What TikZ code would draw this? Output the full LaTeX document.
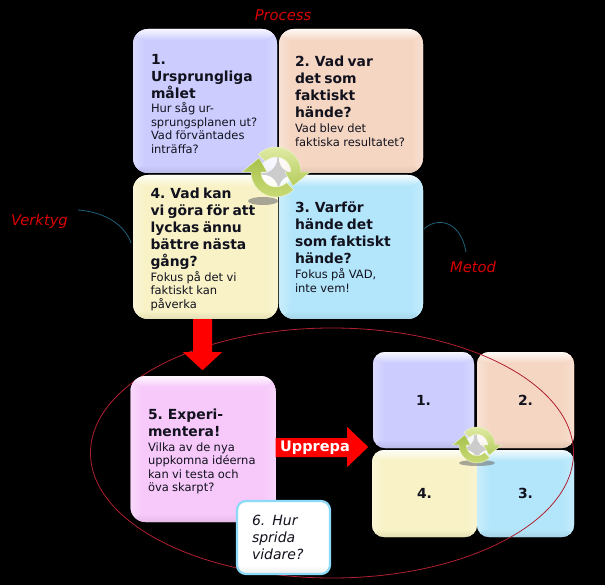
\documentclass[tikz,border=0pt]{standalone}
\usepackage{fontspec}
\setmainfont{DejaVu Sans}
\usetikzlibrary{calc,shadings,shapes.geometric}
\definecolor{cA}{HTML}{CCCCFF}
\definecolor{cB}{HTML}{F5D6C3}
\definecolor{cC}{HTML}{B4E6FB}
\definecolor{cD}{HTML}{F8F2C6}
\definecolor{cE}{HTML}{F7C9FA}
\definecolor{ink}{HTML}{12121E}
\definecolor{ringred}{HTML}{B02030}
\definecolor{teal}{HTML}{1F5F7A}
\definecolor{leafA}{HTML}{E2ECA8}
\definecolor{leafB}{HTML}{B4CC5C}
\definecolor{leafC}{HTML}{A8C24C}
\definecolor{leafD}{HTML}{CADB78}
\definecolor{leafE}{HTML}{F0F5CF}
\newcommand\hd[1]{{\fontsize{13.9}{17}\selectfont\bfseries\rule{0pt}{15.6pt}#1\par}}
\newcommand\hdb[1]{{\fontsize{13.9}{17}\selectfont\bfseries\rule{0pt}{11pt}#1\par}}
\newcommand\bd[1]{{\vspace{1pt}\fontsize{11.5}{13.6}\selectfont #1\par}}
\newcommand\recyc[3]{%
\begin{scope}[shift={(#1,#2)},x=#3pt,y=#3pt]
 \fill[white,opacity=.8] (-22,0)--(0,22)--(22,0)--(0,-22)--cycle;
 \shade[top color=leafA,bottom color=leafB,draw=leafE,line width=.4pt]
   (135:25) arc[start angle=135,end angle=0,radius=25] -- (0:34) -- (-40:22) -- (0:9) -- (0:15)
   arc[start angle=0,end angle=135,radius=15] -- cycle;
 \shade[top color=leafC,bottom color=leafD,draw=leafE,line width=.4pt]
   (-45:25) arc[start angle=-45,end angle=-180,radius=25] -- (180:34) -- (140:22) -- (180:9) -- (180:15)
   arc[start angle=-180,end angle=-45,radius=15] -- cycle;
\end{scope}}
\tikzset{
 bevel/.style={fill=#1,rounded corners=15pt,text=ink,align=left,inner sep=0pt,
  path picture={
   \path (path picture bounding box.north west) coordinate (nw) (path picture bounding box.south east) coordinate (se);
   \shade[left color=#1!72!white,right color=#1] (nw) rectangle ($(nw|-se)+(12pt,0)$);
   \shade[left color=#1,right color=#1!78!white] ($(se|-nw)+(-12pt,0)$) rectangle (se);
   \shade[bottom color=#1!92!black,top color=#1] (se) rectangle ($(nw|-se)+(0,8pt)$);
   \shade[top color=#1!15!white,bottom color=#1] (nw) rectangle ($(se|-nw)+(0,-11pt)$);
  }},
 bigbox/.style={bevel=#1,minimum width=144pt,minimum height=144pt,text width=112pt},
 smallbox/.style={bevel=#1,rounded corners=12pt,minimum width=101pt,minimum height=96pt,align=center,
   font=\fontsize{13.9}{17}\selectfont\bfseries},
 tag/.style={text=red!85!black,font=\fontsize{14.7}{16}\selectfont\itshape,inner sep=0pt},
 link/.style={draw=teal,line width=.8pt},
 iconshadow/.style={fill=black!55,opacity=.6},
}
\begin{document}
\begin{tikzpicture}[x=1pt,y=-1pt]
\useasboundingbox[fill=black] (0,0) rectangle (605,585);
% small squares
\node[smallbox=cA] (s1) at (423.5,400) {1.};
\node[smallbox=cB,minimum width=97pt] (s2) at (525.5,400) {2.};
\node[smallbox=cD,minimum width=105pt,minimum height=87pt] (s4) at (424.5,493.5) {4.};
\node[smallbox=cC,minimum width=97pt,minimum height=87pt] (s3) at (525.5,493.5) {3.};
\fill[iconshadow] (477,463) ellipse[x radius=18,y radius=3];
\recyc{477}{445}{.72}
% ellipse
\node[draw=ringred,line width=.8pt,ellipse,minimum width=483pt,minimum height=250pt,inner sep=0pt] (ring) at (332,453) {};
% main squares
\node[bigbox=cA,text width=108pt] (b1) at (205,101) {\hd{1.\\Ursprungliga\\målet}\bd{Hur såg ur-\\sprungsplanen ut?\\Vad förväntades\\inträffa?}};
\node[bigbox=cB] (b2) at (351,101) {\hdb{2. Vad var\\det som\\faktiskt\\hände?}\bd{Vad blev det\\faktiska resultatet?}};
\node[bigbox=cD,minimum width=145pt,text width=110pt] (b4) at (205.5,247) {\hd{4. Vad kan\\vi göra för att\\lyckas ännu\\bättre nästa\\gång?}\bd{Fokus på det vi\\faktiskt kan\\påverka}};
\node[bigbox=cC] (b3) at (351,247) {\hdb{3. Varför\\hände det\\som faktiskt\\hände?}\bd{Fokus på VAD,\\inte vem!}};
\fill[iconshadow] (263,201) ellipse[x radius=15,y radius=4];
\recyc{276}{172}{1}
\node[bigbox=cE,minimum width=145pt,minimum height=146pt,text width=110pt] (b5) at (203,449) {\hd{5. Experi-\\mentera!}\bd{Vilka av de nya\\uppkomna idéerna\\kan vi testa och\\öva skarpt?}};
\node[bevel=white,rounded corners=9pt,draw=cyan!45!white,line width=2.2pt,minimum width=93pt,minimum height=73pt,text width=63pt,
  font=\fontsize{14}{17}\selectfont\itshape] (b6) at (283.5,537.5) {6. Hur\\sprida\\vidare?};
% block arrows
\fill[red] ($(b4.south)+(-12.5,0)$) -- ++(0,33) -- ++(-10,0) -- ++(19.5,18) -- ++(19.5,-18) -- ++(-10,0) -- ++(0,-33) -- cycle;
\fill[red] ($(b5.east)+(0,-11)$) -- ++(71.5,0) -- ++(0,-11) -- ++(21,20) -- ++(-21,20) -- ++(0,-10) -- ++(-71.5,0) -- cycle;
\node[text=white,font=\fontsize{14.5}{16}\selectfont\bfseries,inner sep=0pt] (rep) at (315,447.5) {Upprepa};
% tags and thin curves
\node[tag] (proc) at (283,15) {Process};
\node[tag] (verk) at (39.5,221) {Verktyg};
\node[tag] (met) at (473,267) {Metod};
\coordinate (vs) at (78,210);
\coordinate (ve) at (131,243);
\coordinate (ms) at (424,229);
\coordinate (me) at (466,252);
\draw[link] (vs) .. controls (105,212) and (125,225) .. (ve);
\draw[link] (ms) .. controls (435,218) and (460,218) .. (me);
\end{tikzpicture}
\end{document}
